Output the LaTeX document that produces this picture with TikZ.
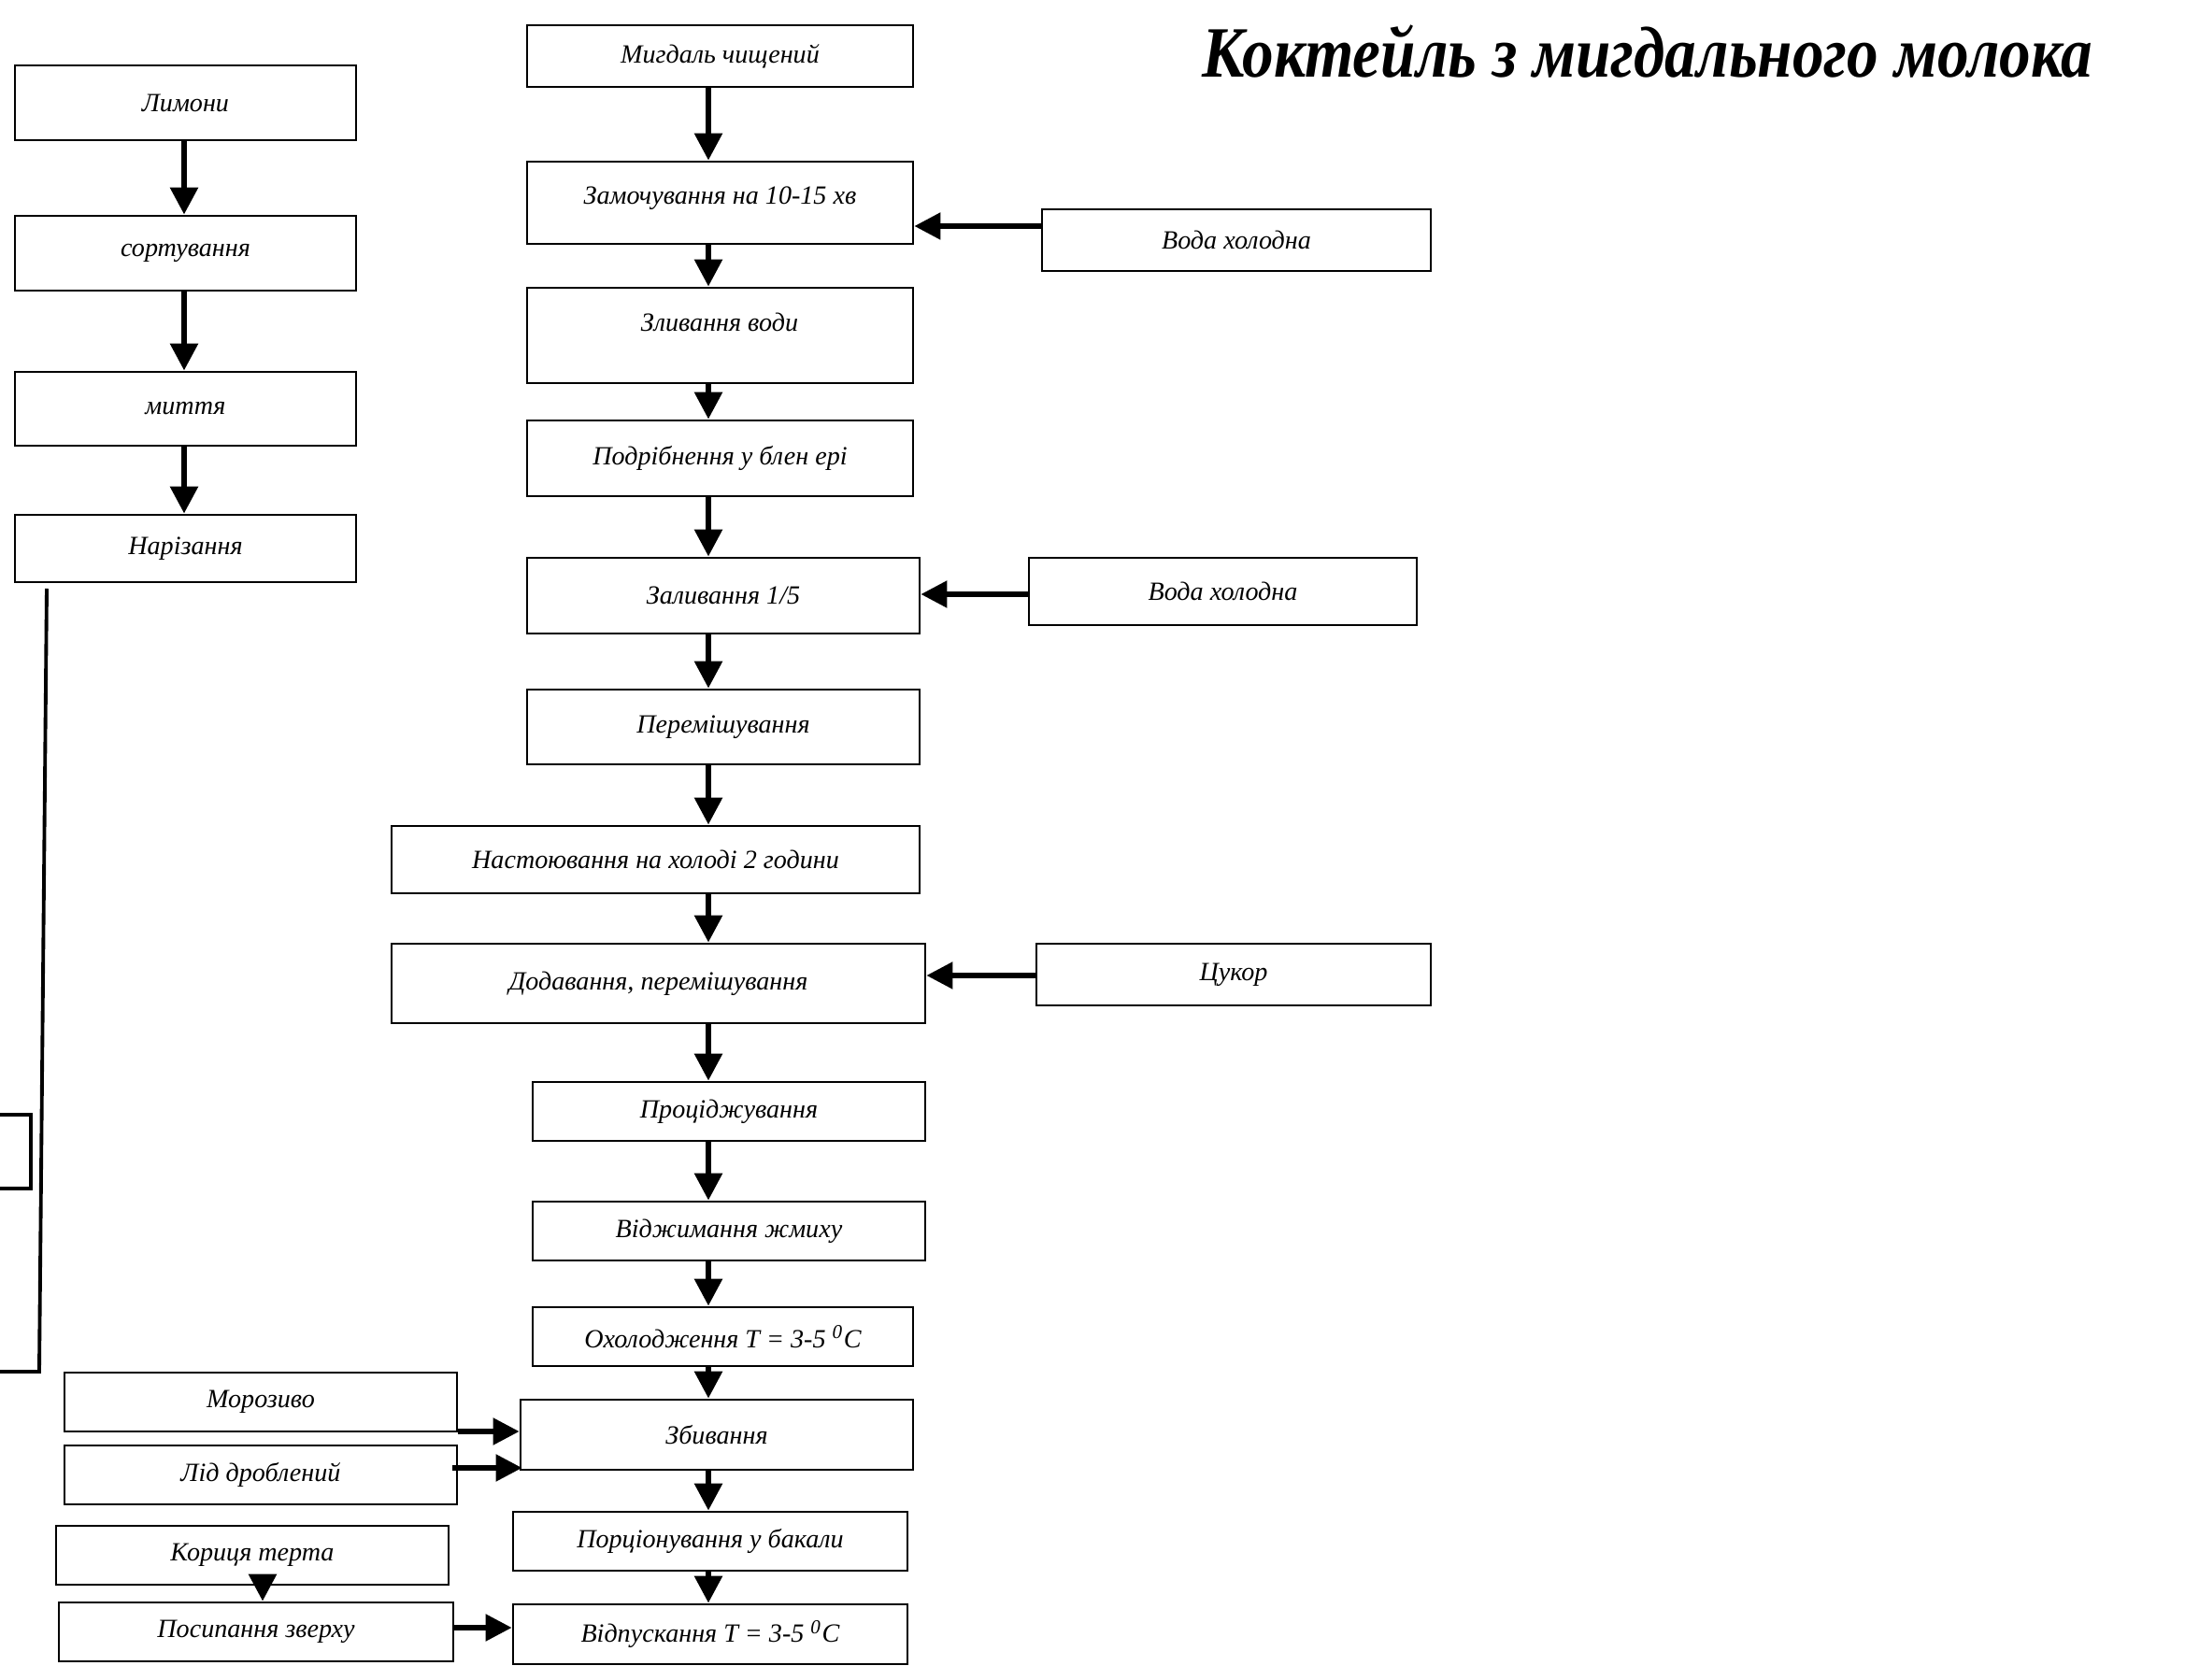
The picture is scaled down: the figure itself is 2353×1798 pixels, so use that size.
\documentclass[tikz,border=0pt]{standalone}
\usepackage{fontspec}
\setmainfont{Liberation Serif}
\newfontfamily\tnr{Liberation Serif}
\newfontfamily\ttl{Liberation Serif}[FakeStretch=0.87]
\usetikzlibrary{arrows.meta}
\tikzset{
  box/.style={draw, line width=0.8pt, inner sep=0pt, font=\tnr\itshape\fontsize{8}{9}\selectfont},
  txt/.style={inner sep=0pt, font=\tnr\itshape\fontsize{8}{9}\selectfont},
  varr/.style={line width=1.7pt, -{Triangle[length=2.9mm,width=2.9mm]}},
  harr/.style={line width=1.5pt, -{Triangle[length=2.8mm,width=2.8mm]}},
  plain/.style={line width=1.1pt},
}
\newcommand\bx[6]{%
  \pgfmathsetmacro\bxw{(#4-#2)*0.1}%
  \pgfmathsetmacro\bxh{(#5-#3)*0.1}%
  \node[box, minimum width=\bxw mm, minimum height=\bxh mm] (#1) at ({(#2+#4)/2},{(#3+#5)/2}) {#6};}
\begin{document}
\begin{tikzpicture}[x=0.1mm, y=-0.1mm]
\fill[white] (0,0) rectangle (2353,1798);
\useasboundingbox (0,0) rectangle (2353,1798);

% title
\node[anchor=base, inner sep=0pt, font=\ttl\bfseries\itshape\fontsize{22}{26}\selectfont] (title) at (1763,83) {Коктейль з мигдального молока};

% left column
\bx{lim}{16}{70}{381}{150}{Лимони}
\bx{sort}{16}{231}{381}{311}{сортування}
\bx{myt}{16}{398}{381}{477}{миття}
\bx{nar}{16}{551}{381}{623}{Нарізання}
\coordinate (lx) at (197,0);
\draw[varr] (lim.south -| lx) -- (sort.north -| lx);
\draw[varr] (sort.south -| lx) -- (myt.north -| lx);
\draw[varr] (myt.south -| lx) -- (nar.north -| lx);
\coordinate (ls) at (50,630);
\coordinate (lc) at (42,1468);
\coordinate (le) at (-10,1468);
\draw[plain] (ls) -- (lc) -- (le);
\draw[plain] (-20,1193) rectangle (33,1272);

% middle column
\bx{mig}{564}{27}{977}{93}{Мигдаль чищений}
\bx{zam}{564}{173}{977}{261}{\raisebox{1.6mm}{Замочування на 10-15 хв}}
\bx{vod1}{1115}{224}{1531}{290}{Вода холодна}
\bx{zl}{564}{308}{977}{410}{}
\node[txt] (zlt) at (770,345) {Зливання води};
\bx{pod}{564}{450}{977}{531}{Подрібнення у блен ері}
\bx{zal}{564}{597}{984}{678}{Заливання 1/5}
\bx{vod2}{1101}{597}{1516}{669}{Вода холодна}
\bx{per}{564}{738}{984}{818}{Перемішування}
\bx{nas}{419}{884}{984}{956}{Настоювання на холоді 2 години}
\bx{dod}{419}{1010}{990}{1095}{Додавання, перемішування}
\bx{cuk}{1109}{1010}{1531}{1076}{Цукор}
\bx{pro}{570}{1158}{990}{1221}{Проціджування}
\bx{vid}{570}{1286}{990}{1349}{Віджимання жмиху}
\bx{ohl}{570}{1399}{977}{1462}{Охолодження T = 3-5 \textsuperscript{0}C}
\bx{zb}{557}{1498}{977}{1573}{Збивання}
\bx{por}{549}{1618}{971}{1681}{Порціонування у бакали}
\bx{vidp}{549}{1717}{971}{1781}{Відпускання T = 3-5 \textsuperscript{0}C}

\coordinate (cx) at (758,0);
\draw[varr] (mig.south -| cx) -- (zam.north -| cx);
\draw[varr] (zam.south -| cx) -- (zl.north -| cx);
\draw[varr] (zl.south -| cx) -- (pod.north -| cx);
\draw[varr] (pod.south -| cx) -- (zal.north -| cx);
\draw[varr] (zal.south -| cx) -- (per.north -| cx);
\draw[varr] (per.south -| cx) -- (nas.north -| cx);
\draw[varr] (nas.south -| cx) -- (dod.north -| cx);
\draw[varr] (dod.south -| cx) -- (pro.north -| cx);
\draw[varr] (pro.south -| cx) -- (vid.north -| cx);
\draw[varr] (vid.south -| cx) -- (ohl.north -| cx);
\draw[varr] (ohl.south -| cx) -- (zb.north -| cx);
\draw[varr] (zb.south -| cx) -- (por.north -| cx);
\draw[varr] (por.south -| cx) -- (vidp.north -| cx);

% side inputs right
\coordinate (y1) at (0,242);
\coordinate (y2) at (0,636);
\coordinate (y3) at (0,1044);
\draw[harr] (vod1.west |- y1) -- (zam.east |- y1);
\draw[harr] (vod2.west |- y2) -- (zal.east |- y2);
\draw[harr] (cuk.west |- y3) -- (dod.east |- y3);

% bottom left
\bx{mor}{69}{1469}{489}{1532}{Морозиво}
\bx{lid}{69}{1547}{489}{1610}{Лід дроблений}
\bx{kor}{60}{1633}{480}{1696}{Кориця терта}
\bx{pos}{63}{1715}{485}{1778}{Посипання зверху}
\coordinate (y4) at (0,1532);
\coordinate (y5) at (0,1571);
\coordinate (y6) at (0,1742);
\coordinate (kx) at (281,0);
\draw[harr] (mor.east |- y4) -- (zb.west |- y4);
\draw[harr] ([xshift=-0.6mm]lid.east |- y5) -- ([xshift=0.3mm]zb.west |- y5);
\draw[harr] (pos.east |- y6) -- (vidp.west |- y6);
\draw[varr] (kor.south -| kx) -- (pos.north -| kx);
\end{tikzpicture}
\end{document}
